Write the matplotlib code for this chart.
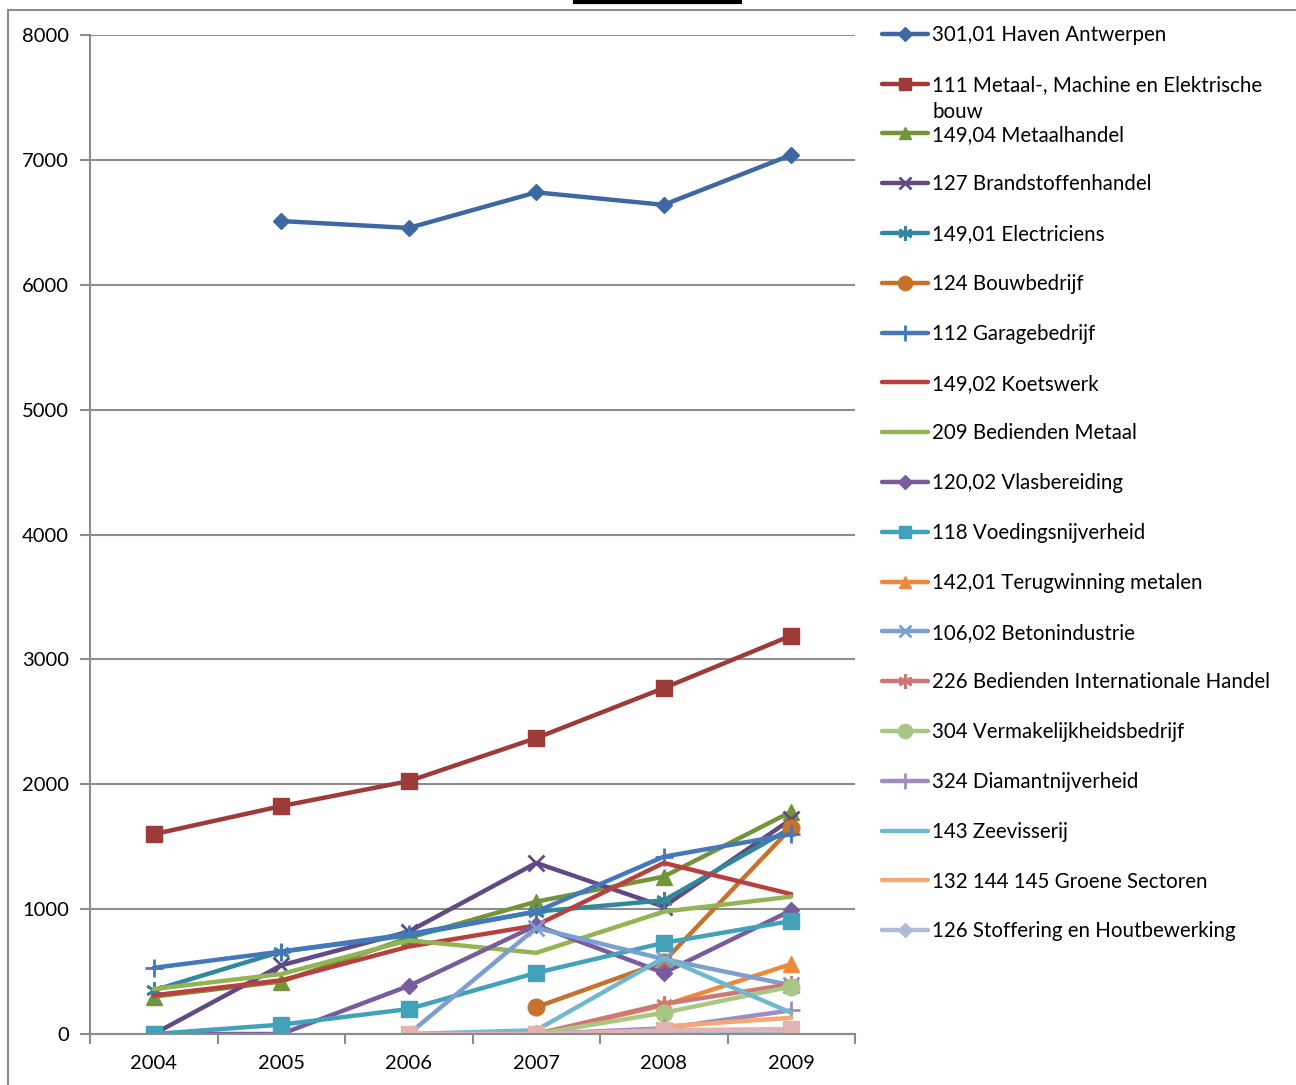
import numpy as np
import matplotlib
matplotlib.use("Agg")
import matplotlib.pyplot as plt
from matplotlib.lines import Line2D
from matplotlib.patches import Rectangle

plt.rcParams['font.family'] = ['Lato', 'DejaVu Sans']

nan = np.nan
years = ['2004', '2005', '2006', '2007', '2008', '2009']

haven = [nan, 6510, 6455, 6740, 6640, 7040]
metaal = [1600, 1825, 2025, 2370, 2770, 3190]
metaalhandel = [300, 420, 770, 1060, 1260, 1780]
brandstof = [0, 550, 820, 1370, 1020, 1720]
electriciens = [350, 660, 790, 980, 1070, 1650]
bouw = [nan, nan, nan, 215, 580, 1650]
garage = [530, 660, 800, 980, 1420, 1600]
koetswerk = [310, 430, 700, 870, 1370, 1120]
bed_metaal = [360, 480, 750, 650, 980, 1100]
vlas = [0, 0, 385, 870, 490, 990]
voeding = [0, 75, 200, 490, 730, 905]
terugwinning = [nan, nan, nan, 0, 230, 560]
beton = [nan, nan, 0, 850, 600, 390]
int_handel = [nan, nan, nan, 0, 240, 400]
vermaak = [nan, nan, nan, 0, 170, 380]
diamant = [nan, nan, nan, 0, 45, 190]
zeevisserij = [nan, nan, 0, 30, 610, 170]
groene = [nan, nan, nan, nan, 60, 130]
stoffering = [nan, nan, nan, 0, 0, 5]
overig = [nan, nan, 0, 0, 30, 40]

labels = [
    "301,01 Haven Antwerpen",
    "111 Metaal-, Machine en Elektrische",
    "149,04 Metaalhandel",
    "127 Brandstoffenhandel",
    "149,01 Electriciens",
    "124 Bouwbedrijf",
    "112 Garagebedrijf",
    "149,02 Koetswerk",
    "209 Bedienden Metaal",
    "120,02 Vlasbereiding",
    "118 Voedingsnijverheid",
    "142,01 Terugwinning metalen",
    "106,02 Betonindustrie",
    "226 Bedienden Internationale Handel",
    "304 Vermakelijkheidsbedrijf",
    "324 Diamantnijverheid",
    "143 Zeevisserij",
    "132 144 145 Groene Sectoren",
    "126 Stoffering en Houtbewerking",
    "_nolegend_",
]
series = [haven, metaal, metaalhandel, brandstof, electriciens, bouw, garage,
          koetswerk, bed_metaal, vlas, voeding, terugwinning, beton, int_handel,
          vermaak, diamant, zeevisserij, groene, stoffering, overig]

colors = ['#3D68A3', '#9E3A38', '#74943A', '#614A83', '#32879D', '#C6722C',
          '#4378BA', '#B8403E', '#92B452', '#7A5C9E', '#42A2BA', '#EE893B',
          '#7C9ED0', '#CE7876', '#A9C784', '#9F8DBD', '#70B8CF', '#F7A675',
          '#AEBBD9', '#E1B3B3']
star = (6, 2, 0)
markers = ['D', 's', '^', 'x', star, 'o', '+', None, None, 'D', 's', '^',
           'x', star, 'o', '+', None, None, 'D', 's']
msizes = [8, 11, 11, 11, 12, 12, 13, 0, 0, 8, 11, 11, 11, 12, 12, 13, 0, 0, 8, 11]

W, H = 1296, 1085
fig = plt.figure(figsize=(W / 100, H / 100), dpi=100)
ax = fig.add_axes([90 / W, 1 - 1034 / H, (855 - 90) / W, (1034 - 35) / H])

x = np.arange(len(years))
handles = []
for s, lab, c, m, ms in zip(series, labels, colors, markers, msizes):
    mew = 2.0 if m in ('x', '+', star) else 1.0
    ln, = ax.plot(x, s, color=c, lw=3.2, marker=m, markersize=ms,
                  markeredgewidth=mew, markeredgecolor=c, markerfacecolor=c,
                  label=lab, solid_capstyle='round', solid_joinstyle='round')
    handles.append(ln)

ax.set_xlim(-0.5, len(years) - 0.5)
ax.set_ylim(0, 8000)
ax.set_yticks(np.arange(0, 8001, 1000))
ax.set_yticklabels([str(v) for v in range(0, 8001, 1000)], fontsize=14.5)
ax.set_xticks(x)
ax.set_xticklabels(years, fontsize=14.5)
ax.set_xticks(np.arange(-0.5, len(years), 1), minor=True)
ax.tick_params(axis='x', which='major', length=0, pad=15)
ax.tick_params(axis='x', which='minor', length=7, width=1.5, color='#8C8C8C', direction='out')
ax.tick_params(axis='y', length=7, width=1.5, color='#8C8C8C', direction='out', pad=8)
ax.grid(axis='y', color='#8C8C8C', lw=1.5)
ax.set_axisbelow(True)
for side in ('top', 'right'):
    ax.spines[side].set_visible(False)
for side in ('left', 'bottom'):
    ax.spines[side].set_color('#8C8C8C')
    ax.spines[side].set_linewidth(1.5)

leg_handles = handles[:19]
leg = fig.legend(handles=leg_handles, labels=labels[:19], loc='upper left',
                 bbox_to_anchor=(882 / W, 1 - 25 / H), frameon=False,
                 fontsize=14.8, handlelength=2.25, handletextpad=0.2,
                 labelspacing=1.45, borderpad=0, borderaxespad=0, markerscale=0.85)
fig.text(932 / W, 1 - 112 / H, "bouw", fontsize=14.8, va='center', ha='left')

# outer frame of the chart area
fig.add_artist(Rectangle((8 / W, -0.1), 3, 1 - 10 / H + 0.1, transform=fig.transFigure,
                         fill=False, ec='#8C8C8C', lw=1.5))
fig.add_artist(Line2D([575 / W, 740 / W], [1 - 1.5 / H, 1 - 1.5 / H],
                      transform=fig.transFigure, color='black', lw=3))

fig.savefig('out.png', dpi=100)
